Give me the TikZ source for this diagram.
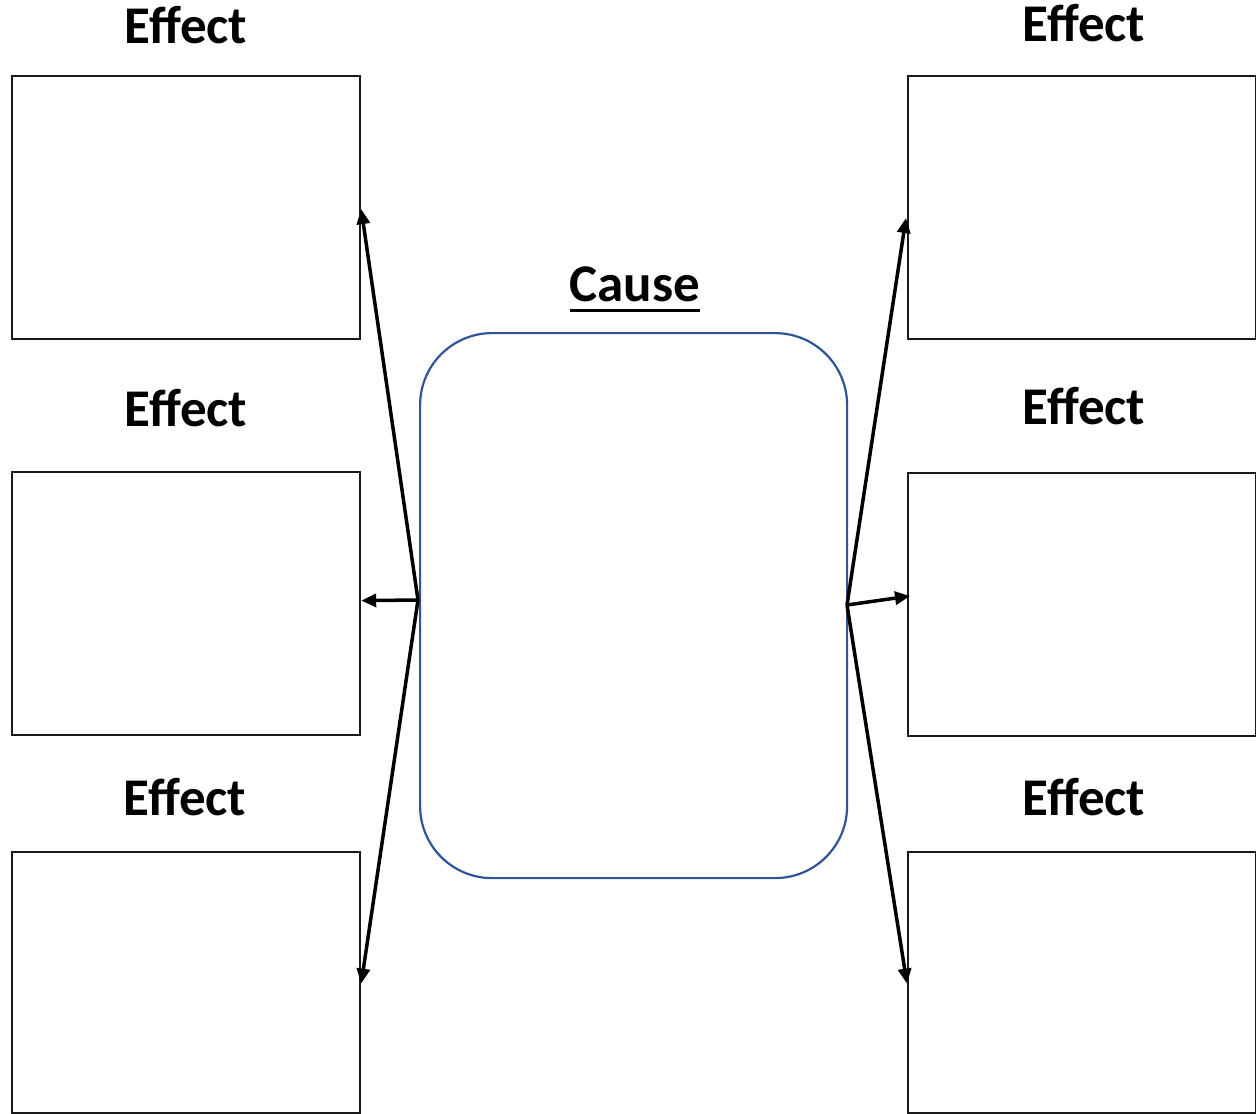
\documentclass[tikz,border=0pt]{standalone}
\usepackage{fontspec}
\setmainfont{Carlito}
\usetikzlibrary{arrows.meta,calc}
\definecolor{causeblue}{RGB}{47,85,151}
\tikzset{
  effbox/.style={draw=black!90, line width=2.2pt, minimum width=348pt, minimum height=263pt, inner sep=0pt, anchor=north west},
  efflbl/.style={font=\fontsize{53}{60}\selectfont\bfseries, anchor=base, inner sep=0pt},
  causebox/.style={draw=causeblue, line width=2.2pt, rounded corners=72pt, minimum width=427pt, minimum height=545pt, inner sep=0pt, anchor=north west},
  conn/.style={line width=3.5pt, -{Triangle[length=15pt,width=13pt]}}
}
\begin{document}
\begin{tikzpicture}[x=1pt,y=-1pt]
\useasboundingbox (0,0) rectangle (1256,1114);
% effect boxes
\node[effbox] (lt) at (11,75) {};
\node[effbox] (lm) at (11,471) {};
\node[effbox, minimum height=261pt] (lb) at (11,851) {};
\node[effbox] (rt) at (907,75) {};
\node[effbox] (rm) at (907,472) {};
\node[effbox, minimum height=261pt] (rb) at (907,851) {};
% labels
\node[efflbl] (ltl) at (186,43) {Effect};
\node[efflbl] (lml) at (186,426) {Effect};
\node[efflbl] (lbl) at (185,815) {Effect};
\node[efflbl] (rtl) at (1084,41) {Effect};
\node[efflbl] (rml) at (1084,424) {Effect};
\node[efflbl] (rbl) at (1084,815) {Effect};
% cause
\node[causebox] (cause) at (419,332) {};
\node[efflbl] (causel) at (635,301) {Cause};
\draw[line width=3pt] ($(causel.base west)+(0,9)$) -- ($(causel.base east)+(0,9)$);
% connector origins
\coordinate (lo) at (418,600);
\coordinate (ro) at (847,605);
\coordinate (rte) at (906,218);
\coordinate (rme) at (910,596);
\draw[conn] (lo) -- ($(lt.east)+(0,1.5)$);
\draw[conn] (lo) -- ($(lm.east)+(0,-3)$);
\draw[conn] (lo) -- ($(lb.east)+(0,1)$);
\draw[conn] (ro) -- (rte);
\draw[conn] (ro) -- (rme);
\draw[conn] (ro) -- ($(rb.west)+(0,1)$);
\end{tikzpicture}
\end{document}
